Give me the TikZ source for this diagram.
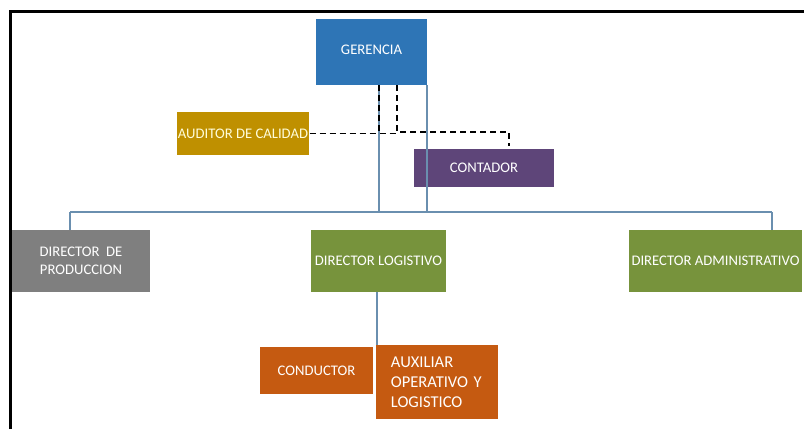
\documentclass[tikz,border=0pt]{standalone}
\usepackage{fontspec}
\setmainfont{Carlito}
\definecolor{cGer}{HTML}{2E75B6}
\definecolor{cAud}{HTML}{BF9000}
\definecolor{cCon}{HTML}{5E4579}
\definecolor{cGray}{HTML}{7F7F7F}
\definecolor{cGreen}{HTML}{77933C}
\definecolor{cOrange}{HTML}{C55A11}
\definecolor{cLine}{HTML}{6A8FAF}
\begin{document}
\begin{tikzpicture}[x=0.75pt,y=-0.75pt,
  box/.style={rectangle,inner sep=1pt,text=white,font=\fontsize{11}{13.5}\selectfont,align=center},
  solidline/.style={draw=cLine,line width=1pt},
  dashline/.style={draw=black,line width=1.4pt,dash pattern=on 4.5pt off 3pt}]
\useasboundingbox (0,0) rectangle (804,429);
\fill[white] (0,0) rectangle (804,429);
% border
\draw[line width=2.3pt,black] (10.5,429) -- (10.5,11.5) -- (804,11.5);
% nodes
\node[box,fill=cGer,minimum width=83.25pt,minimum height=49.5pt] (ger) at (371.5,52) {\raisebox{3pt}{GERENCIA}};
\node[box,fill=cAud,minimum width=99pt,minimum height=32.25pt,text=white!85!yellow] (aud) at (243,133.5) {AUDITOR DE CALIDAD};
\node[box,fill=cCon,minimum width=105pt,minimum height=28.5pt] (con) at (484,168) {CONTADOR};
\node[box,fill=cGray,minimum width=103.5pt,minimum height=46.5pt] (prod) at (81,261) {DIRECTOR\ \ DE\\PRODUCCION};
\node[box,fill=cGreen,minimum width=101.25pt,minimum height=46.5pt] (log) at (378.5,261) {DIRECTOR LOGISTIVO};
\node[box,fill=cGreen,minimum width=129.75pt,minimum height=46.5pt] (adm) at (715.5,261) {DIRECTOR ADMINISTRATIVO};
\node[box,fill=cOrange,minimum width=84.75pt,minimum height=35.25pt] (cond) at (316.5,370.5) {CONDUCTOR};
\node[box,fill=cOrange,anchor=north west,inner xsep=11pt,inner ysep=2pt,text width=69.5pt,minimum height=55.5pt,align=left,font=\fontsize{12.4}{15}\selectfont] (aux) at (376,345) {AUXILIAR\\OPERATIVO Y\\LOGISTICO};
% coordinates
\coordinate (bL) at (70,212);
\coordinate (bR) at (772,212);
\coordinate (c1) at (379,212);
\coordinate (c2) at (427,212);
\coordinate (d1) at (397,132);
\coordinate (d2) at (509,146);
\coordinate (l1) at (377,345);
% solid connectors
\draw[solidline] (bL) -- (bR);
\draw[solidline] (bL) -- (bL |- prod.north);
\draw[solidline] (bR) -- (bR |- adm.north);
\draw[solidline] (c1 |- ger.south) -- (c1);
\draw[solidline] (c2 |- ger.south) -- (c2);
\draw[solidline] (l1 |- log.south) -- (l1);
% dashed connectors
\draw[dashline] (c1 |- ger.south) -- (c1 |- aud.east);
\draw[dashline] (aud.east) -- (d1 |- aud.east);
\draw[dashline] (d1 |- ger.south) -- (d1) -| (d2);
\end{tikzpicture}
\end{document}
